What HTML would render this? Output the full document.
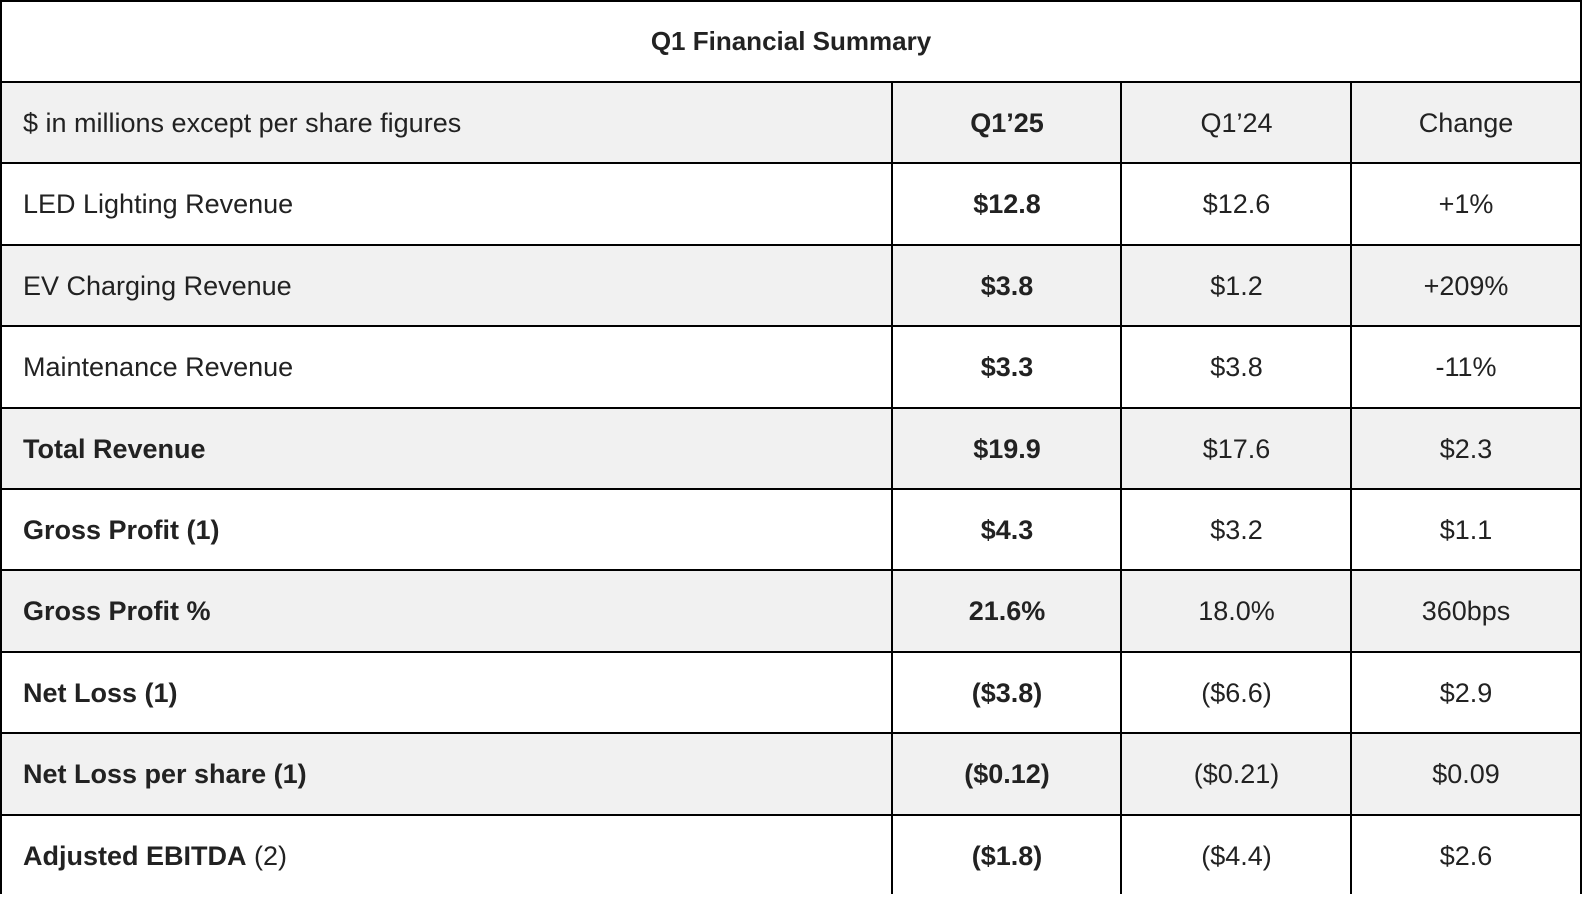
<!DOCTYPE html>
<html><head><meta charset="utf-8"><style>
body{margin:0;width:1582px;height:894px;overflow:hidden;background:#fff;font-family:"Liberation Sans",sans-serif;color:#222}
#t{position:absolute;left:0;top:0;width:1582px;height:894px}
.ln{position:absolute;background:#000}
.row{position:absolute;left:0;width:1582px}
.c{position:absolute;top:0;font-size:27px;white-space:nowrap}
.c0{left:23px}
.c1{left:893px;width:228px;text-align:center;font-weight:bold}
.c2{left:1122px;width:229px;text-align:center}
.c3{left:1352px;width:228px;text-align:center}
.b{font-weight:bold}
</style></head><body>
<div id="t">
<div style="position:absolute;left:0;top:0;width:1582px;height:82px;line-height:82px;text-align:center;font-size:26px;font-weight:bold">Q1 Financial Summary</div>
</div>
<script>
const labels=["$ in millions except per share figures","LED Lighting Revenue","EV Charging Revenue","Maintenance Revenue","Total Revenue","Gross Profit (1)","Gross Profit %","Net Loss (1)","Net Loss per share (1)","Adjusted EBITDA"];
const q125=["Q1’25","$12.8","$3.8","$3.3","$19.9","$4.3","21.6%","($3.8)","($0.12)","($1.8)"];
const q124=["Q1’24","$12.6","$1.2","$3.8","$17.6","$3.2","18.0%","($6.6)","($0.21)","($4.4)"];
const chg=["Change","+1%","+209%","-11%","$2.3","$1.1","360bps","$2.9","$0.09","$2.6"];
const boldLabel=[false,false,false,false,true,true,true,true,true,false];
const t=document.getElementById('t');
const top0=82,rh=81.4;
for(let i=0;i<labels.length;i++){
  const r=document.createElement('div');
  
  
  r.className='row';
  r.style.top=(top0+i*rh)+'px';
  r.style.height=rh+'px';
  r.style.background=(i%2===0)?'#f1f1f1':'#fff';
  const vals=[labels[i],q125[i],q124[i],chg[i]];
  for(let j=0;j<4;j++){
    const c=document.createElement('div');
    
    
    c.className='c c'+j;
    c.style.height=rh+'px';c.style.lineHeight=(rh+2)+'px';
    if(j===0&&boldLabel[i])c.classList.add('b');
    if(j===0&&i===9){c.innerHTML='<b>Adjusted EBITDA</b> (2)';}
    else c.textContent=vals[j];
    r.appendChild(c);
  }
  t.appendChild(r);
}
function line(x,y,w,h){const l=document.createElement('div');


l.className='ln';l.style.left=x+'px';l.style.top=y+'px';l.style.width=w+'px';l.style.height=h+'px';t.appendChild(l);}
line(0,0,1582,2);line(0,0,2,894);line(1580,0,2,894);
for(let i=0;i<=labels.length-1;i++)line(0,Math.round(81+i*rh),1582,2);
[891,1120,1350].forEach(x=>line(x,82,2,812));
</script>
</body></html>
